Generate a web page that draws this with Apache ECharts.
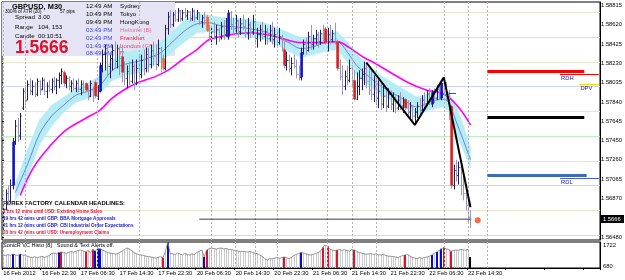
<!DOCTYPE html>
<html>
<head>
<meta charset="utf-8">
<title>GBPUSD M30</title>
<script src="https://cdn.jsdelivr.net/npm/echarts@6/dist/echarts.min.js"></script>
<style>
  html, body { margin: 0; padding: 0; background: #fff; }
  #chart { width: 625px; height: 280px; }
</style>
</head>
<body>
<div id="chart"></div>
<script>
// GBPUSD M30, bars (16 Feb 2012 - 22 Feb 2012)
var barSlots = 247; // bars + empty shift area on the right
var timeLabels = ['16 Feb 2012', '16 Feb 22:30', '17 Feb 06:30', '17 Feb 14:30', '17 Feb 22:30', '20 Feb 06:30',
  '20 Feb 14:30', '20 Feb 22:30', '21 Feb 06:30', '21 Feb 14:30', '21 Feb 22:30', '22 Feb 06:30', '22 Feb 14:30'];
var timeStep = 16;
var priceLabels = ['1.58815', '1.58620', '1.58425', '1.58230', '1.58035', '1.57840', '1.57645',
  '1.57450', '1.57260', '1.57065', '1.56870', '1.56675', '1.56480'];
var priceRange = [1.5645, 1.5885];
var lastPrice = 1.5666;

// [open, high, low, close]
var ohlc = [
  [1.5658,1.5680,1.5653,1.5676],[1.5676,1.5696,1.5675,1.5692],[1.5692,1.5700,1.5680,1.5684],[1.5684,1.5706,1.5683,1.5700],
  [1.5700,1.5748,1.5696,1.5744],[1.5744,1.5766,1.5741,1.5760],[1.5760,1.5768,1.5744,1.5750],[1.5750,1.5773,1.5746,1.5770],
  [1.5778,1.5798,1.5776,1.5795],[1.5795,1.5801,1.5781,1.5785],[1.5786,1.5806,1.5786,1.5802],[1.5802,1.5808,1.5791,1.5795],
  [1.5795,1.5806,1.5791,1.5800],[1.5800,1.5804,1.5789,1.5792],[1.5792,1.5808,1.5790,1.5805],[1.5805,1.5806,1.5791,1.5796],
  [1.5797,1.5809,1.5796,1.5806],[1.5806,1.5808,1.5791,1.5795],[1.5795,1.5804,1.5788,1.5800],[1.5800,1.5806,1.5794,1.5797],
  [1.5797,1.5808,1.5793,1.5805],[1.5805,1.5810,1.5796,1.5800],[1.5800,1.5808,1.5792,1.5806],[1.5806,1.5814,1.5798,1.5811],
  [1.5811,1.5818,1.5802,1.5815],[1.5814,1.5816,1.5800,1.5803],[1.5803,1.5811,1.5798,1.5808],[1.5808,1.5810,1.5796,1.5800],
  [1.5800,1.5806,1.5794,1.5803],[1.5803,1.5808,1.5796,1.5798],[1.5798,1.5806,1.5794,1.5803],[1.5803,1.5808,1.5794,1.5797],
  [1.5797,1.5806,1.5791,1.5802],[1.5802,1.5806,1.5794,1.5799],[1.5803,1.5804,1.5794,1.5796],[1.5796,1.5801,1.5786,1.5790],
  [1.5790,1.5806,1.5789,1.5803],[1.5796,1.5800,1.5784,1.5788],[1.5804,1.5806,1.5788,1.5790],[1.5790,1.5801,1.5786,1.5795],
  [1.5795,1.5824,1.5794,1.5821],[1.5821,1.5837,1.5814,1.5832],[1.5832,1.5842,1.5816,1.5838],[1.5838,1.5840,1.5811,1.5820],
  [1.5820,1.5832,1.5808,1.5828],[1.5828,1.5842,1.5816,1.5836],[1.5836,1.5845,1.5818,1.5825],[1.5825,1.5842,1.5818,1.5838],
  [1.5838,1.5840,1.5811,1.5828],[1.5830,1.5842,1.5804,1.5814],[1.5814,1.5825,1.5801,1.5808],[1.5808,1.5821,1.5798,1.5815],
  [1.5815,1.5825,1.5801,1.5805],[1.5805,1.5827,1.5803,1.5820],[1.5820,1.5823,1.5796,1.5803],[1.5803,1.5827,1.5801,1.5818],
  [1.5818,1.5832,1.5806,1.5812],[1.5812,1.5832,1.5808,1.5826],[1.5826,1.5837,1.5811,1.5818],[1.5818,1.5839,1.5814,1.5832],
  [1.5832,1.5839,1.5814,1.5822],[1.5822,1.5842,1.5818,1.5836],[1.5836,1.5845,1.5821,1.5830],[1.5830,1.5842,1.5816,1.5822],
  [1.5822,1.5847,1.5820,1.5838],[1.5838,1.5840,1.5814,1.5825],[1.5828,1.5832,1.5816,1.5818],[1.5818,1.5862,1.5816,1.5858],
  [1.5858,1.5875,1.5852,1.5870],[1.5870,1.5877,1.5859,1.5862],[1.5862,1.5875,1.5860,1.5872],[1.5872,1.5877,1.5865,1.5867],
  [1.5867,1.5879,1.5865,1.5876],[1.5876,1.5877,1.5865,1.5868],[1.5868,1.5877,1.5866,1.5874],[1.5874,1.5879,1.5869,1.5871],
  [1.5871,1.5877,1.5867,1.5875],[1.5875,1.5876,1.5865,1.5868],[1.5868,1.5879,1.5866,1.5876],[1.5876,1.5877,1.5865,1.5869],
  [1.5869,1.5877,1.5867,1.5874],[1.5874,1.5875,1.5862,1.5865],[1.5865,1.5872,1.5859,1.5869],[1.5869,1.5875,1.5862,1.5866],
  [1.5870,1.5872,1.5855,1.5856],[1.5856,1.5862,1.5847,1.5850],[1.5850,1.5859,1.5842,1.5855],[1.5855,1.5865,1.5847,1.5850],
  [1.5850,1.5862,1.5842,1.5857],[1.5857,1.5859,1.5845,1.5849],[1.5849,1.5865,1.5847,1.5860],[1.5860,1.5867,1.5847,1.5852],
  [1.5852,1.5869,1.5850,1.5856],[1.5850,1.5877,1.5847,1.5874],[1.5874,1.5876,1.5857,1.5862],[1.5862,1.5869,1.5852,1.5858],
  [1.5858,1.5872,1.5854,1.5866],[1.5866,1.5867,1.5849,1.5855],[1.5855,1.5869,1.5852,1.5863],[1.5863,1.5872,1.5857,1.5860],
  [1.5860,1.5867,1.5849,1.5853],[1.5853,1.5869,1.5847,1.5862],[1.5862,1.5865,1.5849,1.5855],[1.5855,1.5872,1.5852,1.5865],
  [1.5865,1.5866,1.5842,1.5848],[1.5848,1.5859,1.5839,1.5852],[1.5852,1.5862,1.5845,1.5857],[1.5857,1.5865,1.5847,1.5850],
  [1.5850,1.5862,1.5842,1.5855],[1.5855,1.5859,1.5842,1.5848],[1.5848,1.5862,1.5845,1.5856],[1.5856,1.5865,1.5842,1.5847],
  [1.5847,1.5859,1.5839,1.5852],[1.5852,1.5857,1.5839,1.5844],[1.5844,1.5859,1.5842,1.5850],[1.5850,1.5852,1.5835,1.5838],
  [1.5837,1.5847,1.5818,1.5821],[1.5821,1.5835,1.5816,1.5826],[1.5826,1.5832,1.5814,1.5818],[1.5818,1.5829,1.5811,1.5823],
  [1.5823,1.5832,1.5818,1.5820],[1.5820,1.5827,1.5808,1.5812],[1.5812,1.5821,1.5806,1.5809],[1.5809,1.5839,1.5806,1.5834],
  [1.5834,1.5847,1.5832,1.5842],[1.5842,1.5849,1.5832,1.5836],[1.5836,1.5855,1.5835,1.5850],[1.5850,1.5862,1.5837,1.5842],
  [1.5842,1.5852,1.5837,1.5848],[1.5848,1.5857,1.5842,1.5852],[1.5852,1.5855,1.5839,1.5845],[1.5845,1.5857,1.5842,1.5853],
  [1.5853,1.5862,1.5845,1.5849],[1.5858,1.5860,1.5842,1.5844],[1.5844,1.5859,1.5835,1.5852],[1.5852,1.5862,1.5842,1.5847],
  [1.5847,1.5857,1.5845,1.5853],[1.5853,1.5864,1.5842,1.5848],[1.5845,1.5847,1.5816,1.5818],[1.5818,1.5827,1.5806,1.5810],
  [1.5810,1.5821,1.5791,1.5800],[1.5800,1.5816,1.5796,1.5810],[1.5810,1.5821,1.5801,1.5806],[1.5806,1.5827,1.5804,1.5818],
  [1.5818,1.5821,1.5798,1.5804],[1.5806,1.5816,1.5786,1.5787],[1.5787,1.5814,1.5786,1.5800],[1.5800,1.5816,1.5791,1.5808],
  [1.5808,1.5818,1.5796,1.5812],[1.5812,1.5825,1.5801,1.5818],[1.5818,1.5824,1.5798,1.5805],[1.5805,1.5818,1.5791,1.5796],
  [1.5796,1.5816,1.5786,1.5792],[1.5792,1.5811,1.5784,1.5800],[1.5800,1.5808,1.5781,1.5788],[1.5788,1.5806,1.5778,1.5795],
  [1.5795,1.5804,1.5776,1.5782],[1.5782,1.5801,1.5778,1.5790],[1.5790,1.5798,1.5774,1.5780],[1.5780,1.5798,1.5778,1.5792],
  [1.5792,1.5796,1.5776,1.5782],[1.5782,1.5794,1.5774,1.5788],[1.5788,1.5791,1.5773,1.5778],[1.5778,1.5791,1.5776,1.5786],
  [1.5786,1.5794,1.5776,1.5780],[1.5780,1.5789,1.5773,1.5784],[1.5787,1.5788,1.5776,1.5778],[1.5778,1.5786,1.5771,1.5774],
  [1.5774,1.5784,1.5768,1.5780],[1.5780,1.5781,1.5766,1.5770],[1.5770,1.5778,1.5761,1.5774],[1.5774,1.5784,1.5768,1.5780],
  [1.5780,1.5788,1.5771,1.5776],[1.5776,1.5791,1.5774,1.5786],[1.5786,1.5794,1.5778,1.5782],[1.5782,1.5796,1.5781,1.5792],
  [1.5792,1.5798,1.5781,1.5786],[1.5782,1.5796,1.5779,1.5794],[1.5794,1.5798,1.5783,1.5788],[1.5788,1.5801,1.5786,1.5797],
  [1.5797,1.5804,1.5786,1.5792],[1.5788,1.5806,1.5786,1.5803],[1.5803,1.5809,1.5791,1.5798],[1.5798,1.5804,1.5786,1.5792],
  [1.5792,1.5796,1.5766,1.5782],[1.5780,1.5781,1.5697,1.5700],[1.5700,1.5721,1.5696,1.5715],[1.5715,1.5726,1.5704,1.5710],
  [1.5710,1.5724,1.5701,1.5718],[1.5718,1.5720,1.5690,1.5700],[1.5700,1.5714,1.5685,1.5692],[1.5692,1.5701,1.5675,1.5680],
  [1.5680,1.5690,1.5663,1.5668],[1.5668,1.5675,1.5657,1.5666]
];
// volume climax candles painted by the SonicR indicator
var hotBlue = [4, 40, 93, 123, 177, 181];
var hotRed = [25, 34, 38, 49, 116, 133, 138, 145, 166, 185];
var hotOrange = [66, 84];

// dragon band (EMA34 of highs / lows) and the middle EMA, [bar, price]
var bandRows = [
  [5,1.5701,1.5685],[10,1.5736,1.5708],[15,1.5766,1.5741],[20,1.5781,1.5760],[25,1.5789,1.5774],[30,1.5798,1.5784],
  [35,1.5803,1.5788],[40,1.5811,1.5793],[45,1.5827,1.5806],[50,1.5834,1.5811],[57,1.5837,1.5814],[65,1.5844,1.5825],
  [70,1.5855,1.5835],[75,1.5867,1.5845],[80,1.5873,1.5854],[85,1.5872,1.5855],[90,1.5869,1.5852],[96,1.5869,1.5852],
  [102,1.5867,1.5850],[108,1.5864,1.5847],[113,1.5859,1.5842],[118,1.5854,1.5835],[123,1.5849,1.5829],[128,1.5849,1.5832],
  [133,1.5854,1.5835],[138,1.5855,1.5837],[142,1.5845,1.5825],[146,1.5832,1.5811],[151,1.5821,1.5801],[156,1.5811,1.5791],
  [164,1.5799,1.5781],[171,1.5789,1.5771],[176,1.5793,1.5776],[181,1.5796,1.5779],[184,1.5794,1.5776],[187,1.5781,1.5751],
  [190,1.5761,1.5736],[193,1.5738,1.5718]
];
var emaMid = [
  [5,1.5693],[10,1.5721],[15,1.5752],[20,1.5770],[25,1.5781],[30,1.5791],[35,1.5795],[40,1.5801],[45,1.5816],[50,1.5822],
  [57,1.5826],[65,1.5834],[70,1.5845],[75,1.5856],[80,1.5863],[85,1.5864],[90,1.5861],[96,1.5860],[102,1.5858],[108,1.5855],
  [113,1.5850],[118,1.5844],[123,1.5838],[128,1.5840],[133,1.5844],[138,1.5845],[142,1.5835],[146,1.5821],[151,1.5810],
  [156,1.5800],[164,1.5789],[171,1.5779],[176,1.5784],[181,1.5787],[184,1.5784],[187,1.5765],[190,1.5746],[193,1.5726]
];
var emaSlow = [
  [7,1.5690],[12,1.5716],[18,1.5736],[26,1.5756],[35,1.5769],[40,1.5776],[45,1.5788],[51,1.5798],[56,1.5804],[62,1.5809],
  [68,1.5816],[74,1.5827],[80,1.5837],[85,1.5847],[94,1.5852],[102,1.5854],[109,1.5852],[114,1.5849],[120,1.5845],
  [124,1.5844],[131,1.5844],[138,1.5845],[143,1.5839],[149,1.5829],[153,1.5824],[167,1.5804],[175,1.5796],[180,1.5794],
  [184,1.5789],[189,1.5776],[193,1.5761]
];
var zigzag = [[150,1.5824],[170,1.5761],[182,1.5809],[193,1.5678]];

var roundLevels = [1.5875, 1.5850, 1.5825, 1.5800, 1.5775, 1.5750, 1.5725, 1.5700, 1.5675, 1.5650];
var sessionBars = [0, 9, 39, 56, 86, 96, 104, 113, 134, 144, 154, 182, 192, 200];
// [fromBar, toBar, price, colour, width, label]
var dayLevels = [
  [200, 240, 1.5815, '#ff0000', 3, ''],
  [230, 246, 1.5812, '#ff0000', 1, 'RDH'],
  [238, 246, 1.5802, '#f0dc00', 1, 'DPV'],
  [200, 240, 1.5769, '#000000', 3, ''],
  [200, 241, 1.5710, '#3c6cb4', 3, ''],
  [230, 246, 1.5707, '#4a5ad8', 1, 'RDL'],
  [184, 187, 1.5793, '#ff0000', 1, '']
];
var bidLine = [[81, lastPrice], [193, lastPrice]];
var alertDot = [[196, 1.5665]];

// SonicR VC histogram
var volAxis = [680, 1722];
var volume = [
  1200,1180,1220,1190,1240,1210,1180,1240,1200,1190, 1150,1120,1100,1130,1090,1120,1150,1100,1140,1180,
  1260,1280,1250,1300,1320,1290,1270,1300,1340,1320, 1350,1380,1400,1360,1330,1380,1300,1420,1360,1450,
  1450,1400,1350,1300,1280,1260,1250,1240,1300,1350, 1420,1480,1450,1380,1300,1250,1220,1200,1180,1150,
  1140,1120,1100,1080,1110,1130,1090,1350,1720,1250, 1250,1220,1280,1240,1210,1260,1230,1200,1250,1220,
  1300,1350,1400,1120,1400,1450,1480,1460,1440,1470, 1480,1450,1460,1430,1420,1400,1380,1360,1340,1350,
  1330,1320,1350,1300,1280,1250,1200,1150,1050,1000, 1060,1040,1080,1100,1070,1090,1120,1100,1060,1100,
  1180,1220,1260,1300,1280,1250,1220,1200,1230,1260, 1300,1350,1500,1600,1550,1420,1400,1380,1400,1420,
  1390,1410,1380,1360,1420,1400,1350,1300,1280,1250, 1230,1240,1260,1220,1250,1210,1200,1230,1180,1160,
  1150,1140,1120,1100,1140,1180,1200,1220,1160,1100, 1080,1060,1090,1070,1100,1120,1150,1200,1260,1320,
  1380,1450,1500,1450,1420,1350,1380,1400,1390,1420, 1410,1400,1430,1120
];
var volBlue = [4, 7, 23, 38, 39, 40, 68, 83, 123, 177, 179, 181];
var volRed = [24, 34, 37, 66, 84, 116, 132, 134, 138, 145, 166, 182, 185];
var volBlack = [193];

var clockTimes = ['12:49 AM', '10:49 PM', '09:49 PM', '03:49 PM', '02:49 PM', '01:49 PM', '08:49 AM'];
var clockCities = ['Sydney', 'Tokyo', 'HongKong', 'Helsinki (B)', 'Frankfurt', 'London (GMT)', 'NewYork (B)'];
var headlines = [
  '1 hrs 12 mins until USD: Existing Home Sales',
  '19 hrs 42 mins until GBP: BBA Mortgage Approvals',
  '21 hrs 12 mins until GBP: CBI Industrial Order Expectations',
  '23 hrs 42 mins until USD: Unemployment Claims'
];

var FONT = '"Liberation Sans", Arial, sans-serif';
var UP = '#1e1e5a', DOWN = '#9898b4';
var HOT = ['', '#1010d0', '#dc1e1e', '#f0643c'];
var VOLC = ['#cacaca', '#0a0acc', '#e0102a', '#000000'];

var chart = echarts.init(document.getElementById('chart'), null, { renderer: 'canvas' });

var cats = [];
for (var k = 0; k < barSlots; k++) cats.push(String(k));

function hotOf(i) {
  if (hotBlue.indexOf(i) >= 0) return 1;
  if (hotRed.indexOf(i) >= 0) return 2;
  if (hotOrange.indexOf(i) >= 0) return 3;
  return 0;
}
var candleData = ohlc.map(function (r, i) { return [i, r[0], r[1], r[2], r[3], hotOf(i)]; });

function volColour(i) {
  if (volBlue.indexOf(i) >= 0) return 1;
  if (volRed.indexOf(i) >= 0) return 2;
  if (volBlack.indexOf(i) >= 0) return 3;
  return 0;
}
var volData = volume.map(function (v, i) { return [i, v, volColour(i)]; });

function renderBar(params, api) {
  var i = api.value(0);
  var o = api.coord([i, api.value(1)]);
  var h = api.coord([i, api.value(2)]);
  var l = api.coord([i, api.value(3)]);
  var c = api.coord([i, api.value(4)]);
  var hot = api.value(5);
  var x = Math.round(h[0]) + 0.5;
  var col = api.value(4) >= api.value(1) ? UP : DOWN;
  var kids = [
    { type: 'line', shape: { x1: x, y1: h[1], x2: x, y2: l[1] }, style: { stroke: col, lineWidth: 1 } },
    { type: 'line', shape: { x1: x - 1.2, y1: o[1], x2: x, y2: o[1] }, style: { stroke: col, lineWidth: 1 } },
    { type: 'line', shape: { x1: x, y1: c[1], x2: x + 1.2, y2: c[1] }, style: { stroke: col, lineWidth: 1 } }
  ];
  if (hot) {
    kids.push({ type: 'rect', shape: { x: x - 1.2, y: Math.min(o[1], c[1]), width: 2.6, height: Math.max(1, Math.abs(c[1] - o[1])) },
      style: { fill: HOT[hot] } });
  }
  return { type: 'group', children: kids };
}

function renderBand(params, api) {
  var n = params.dataIndex;
  if (n >= bandRows.length - 1) return null;
  var a = bandRows[n], b = bandRows[n + 1];
  var pts = [api.coord([a[0], a[1]]), api.coord([b[0], b[1]]), api.coord([b[0], b[2]]), api.coord([a[0], a[2]])];
  return { type: 'polygon', shape: { points: pts }, style: { fill: '#b6ecf4', stroke: '#b6ecf4', lineWidth: 0.6 } };
}

function renderVol(params, api) {
  var i = api.value(0), c = api.value(2);
  var top = api.coord([i, api.value(1)]);
  var base = api.coord([i, volAxis[0]]);
  var w = c ? 2 : 1;
  return { type: 'rect', shape: { x: Math.round(top[0]) - (c ? 1 : 0), y: top[1], width: w, height: base[1] - top[1] },
    style: { fill: VOLC[c] } };
}

// horizontal round-number lines, drawn on whole pixels so they stay crisp
function renderLevel(params, api) {
  var p = api.value(1);
  var a = api.coord([0, p]);
  var y = Math.round(a[1]) + 0.5;
  var r = Math.round(p * 10000) % 100;
  var col = r === 0 ? '#d2d2f6' : (r === 50 ? '#bdeebd' : '#ede4cd');
  return { type: 'line', shape: { x1: 2, y1: y, x2: 600, y2: y }, style: { stroke: col, lineWidth: 1 } };
}

// price tag on the right axis
function renderTag(params, api) {
  var p = api.coord([api.value(0), api.value(1)]);
  var y = Math.round(p[1]);
  return {
    type: 'group',
    children: [
      { type: 'rect', shape: { x: 601, y: y - 4, width: 23, height: 8 }, style: { fill: '#000' } },
      { type: 'text', x: 603, y: y, style: { text: String(lastPrice), fill: '#fff', font: '5.8px ' + FONT, verticalAlign: 'middle' } }
    ]
  };
}

var sessionMarks = {
  silent: true, symbol: ['none', 'none'], label: { show: false },
  lineStyle: { color: '#b4b4b4', type: [2, 2], width: 1 },
  data: sessionBars.map(function (b) { return { xAxis: b }; })
};

var markSegments = dayLevels.map(function (d) {
  return [
    { coord: [d[0], d[2]], lineStyle: { color: d[3], width: d[4], type: 'solid' },
      label: { show: !!d[5], formatter: d[5], position: 'insideStartBottom', distance: 1, color: '#24248c', fontSize: 5.8, fontFamily: FONT } },
    { coord: [d[1], d[2]] }
  ];
});

var graphics = [
  { type: 'rect', x: 2, y: 2, shape: { width: 173, height: 54 }, style: { fill: '#e4e4f4' }, z: 1, silent: true },
  { type: 'text', x: 12, y: 6.5, z: 1, style: { text: 'GBPUSD, M30', font: 'bold 7.4px ' + FONT, fill: '#000', verticalAlign: 'middle' } },
  { type: 'text', x: 5, y: 12, z: 1, style: { text: '300% of ATR (20)', font: '4.6px ' + FONT, fill: '#000', verticalAlign: 'middle' } },
  { type: 'text', x: 60, y: 12, z: 1, style: { text: '57 pips', font: '4.6px ' + FONT, fill: '#000', verticalAlign: 'middle' } },
  { type: 'text', x: 15, y: 17, z: 1, style: { text: 'Spread', font: '6.2px ' + FONT, fill: '#000', verticalAlign: 'middle' } },
  { type: 'text', x: 38, y: 17, z: 1, style: { text: '3.00', font: '6.2px ' + FONT, fill: '#000', verticalAlign: 'middle' } },
  { type: 'text', x: 15, y: 27, z: 1, style: { text: 'Range', font: '6.2px ' + FONT, fill: '#000', verticalAlign: 'middle' } },
  { type: 'text', x: 38, y: 27, z: 1, style: { text: '104, 153', font: '6.2px ' + FONT, fill: '#000', verticalAlign: 'middle' } },
  { type: 'text', x: 15, y: 36, z: 1, style: { text: 'Candle', font: '6.2px ' + FONT, fill: '#000', verticalAlign: 'middle' } },
  { type: 'text', x: 38, y: 36, z: 1, style: { text: '00:10:51', font: '6.2px ' + FONT, fill: '#000', verticalAlign: 'middle' } },
  { type: 'text', x: 15, y: 48.5, z: 1, style: { text: String(lastPrice), font: 'bold 17.5px ' + FONT, fill: '#e0102a', verticalAlign: 'middle' } },
  { type: 'text', x: 3, y: 203, z: 1, style: { text: 'FOREX FACTORY CALENDAR HEADLINES:', font: 'bold 5.9px ' + FONT, fill: '#000', verticalAlign: 'middle' } },
  { type: 'text', x: 3, y: 245.5, z: 6, style: { text: 'SonicR VC Histo (8)   Sound & Text Alerts off.', font: '5.5px ' + FONT, fill: '#000', verticalAlign: 'middle' } }
];
var clockY = [6.2, 14.3, 22.2, 30, 38, 46, 53.6];
var cityColours = ['#000', '#000', '#000', '#e070a0', '#e8284c', '#e04870', '#e8284c'];
clockTimes.forEach(function (t, i) {
  graphics.push({ type: 'text', x: 86, y: clockY[i], z: 1, style: { text: t, font: '6.2px ' + FONT, fill: i < 3 ? '#000' : '#4646d2', verticalAlign: 'middle' } });
  graphics.push({ type: 'text', x: 120, y: clockY[i], z: 1, style: { text: clockCities[i], font: '6.2px ' + FONT, fill: cityColours[i], verticalAlign: 'middle' } });
});
var headlineY = [211.5, 218.5, 225.7, 232.7];
headlines.forEach(function (t, i) {
  var usd = t.indexOf('USD') >= 0;
  graphics.push({ type: 'text', x: 3, y: headlineY[i], z: 1, style: { text: t, font: 'bold 4.6px ' + FONT, fill: usd ? '#e8143c' : '#1818c8', verticalAlign: 'middle' } });
});

var option = {
  animation: false,
  backgroundColor: '#ffffff',
  graphic: graphics,
  grid: [
    { left: 2, right: 25, top: 2, height: 238, show: true, borderColor: '#000', borderWidth: 1, backgroundColor: 'transparent' },
    { left: 2, right: 25, top: 242, height: 26, show: true, borderColor: '#000', borderWidth: 1, backgroundColor: 'transparent' },
    { left: 2, right: 25, top: 5.5, height: 231.5, show: false }
  ],
  xAxis: [
    { type: 'category', gridIndex: 0, data: cats, show: false },
    { type: 'category', gridIndex: 1, data: cats,
      axisLine: { show: true, lineStyle: { color: '#000' } },
      axisTick: { show: true, length: 2, interval: function (i) { return i % timeStep === 0; }, lineStyle: { color: '#000' } },
      axisLabel: { interval: function (i) { return i % timeStep === 0; }, align: 'left', margin: 2.5,
        fontSize: 5.8, fontFamily: FONT, color: '#000',
        formatter: function (v, i) { return i % timeStep === 0 ? (timeLabels[i / timeStep] || '') : ''; } } },
    { type: 'value', gridIndex: 2, show: false }
  ],
  yAxis: [
    { type: 'value', gridIndex: 0, position: 'right', min: priceRange[0], max: priceRange[1], scale: true,
      axisLine: { show: true, lineStyle: { color: '#000' } }, axisTick: { show: false }, axisLabel: { show: false }, splitLine: { show: false } },
    { type: 'value', gridIndex: 1, position: 'right', min: volAxis[0], max: volAxis[1], interval: volAxis[1] - volAxis[0],
      axisLine: { show: true, lineStyle: { color: '#000' } }, axisTick: { show: false }, splitLine: { show: false },
      axisLabel: { margin: 3, fontSize: 5.8, fontFamily: FONT, color: '#000',
        formatter: function (v) { return v >= volAxis[1] ? '{t|' + volAxis[1] + '}' : '{b|' + volAxis[0] + '}'; },
        rich: { t: { padding: [6, 0, 0, 0], fontSize: 5.8, fontFamily: FONT }, b: { padding: [0, 0, 3, 0], fontSize: 5.8, fontFamily: FONT } } } },
    { type: 'category', gridIndex: 2, position: 'right', data: priceLabels.slice().reverse(), boundaryGap: false,
      axisLine: { show: false }, axisTick: { show: true, length: 2, lineStyle: { color: '#000' } },
      axisLabel: { interval: 0, margin: 4, fontSize: 5.8, fontFamily: FONT, color: '#000' }, splitLine: { show: false } }
  ],
  series: [
    { name: 'levels', type: 'custom', xAxisIndex: 0, yAxisIndex: 0, z: 0, silent: true, clip: false,
      renderItem: renderLevel, data: roundLevels.map(function (p) { return [0, p]; }), encode: { x: 0, y: 1 } },
    { name: 'sessions', type: 'line', xAxisIndex: 0, yAxisIndex: 0, z: 0, data: [[0, roundLevels[0]]], showSymbol: false, silent: true,
      lineStyle: { opacity: 0 }, markLine: sessionMarks },
    { name: 'band', type: 'custom', xAxisIndex: 0, yAxisIndex: 0, z: 2, renderItem: renderBand, data: bandRows, silent: true,
      encode: { x: 0, y: [1, 2] } },
    { name: 'ema34', type: 'line', xAxisIndex: 0, yAxisIndex: 0, z: 3, data: emaMid, showSymbol: false, smooth: 0.3,
      lineStyle: { color: '#5866dc', width: 0.8 } },
    { name: 'ema89', type: 'line', xAxisIndex: 0, yAxisIndex: 0, z: 3, data: emaSlow, showSymbol: false, smooth: 0.3,
      lineStyle: { color: '#ff00ff', width: 1.6 } },
    { name: 'levelsDay', type: 'line', xAxisIndex: 0, yAxisIndex: 0, z: 3, data: [[246, dayLevels[0][2]]], showSymbol: false,
      lineStyle: { opacity: 0 }, markLine: { silent: true, symbol: ['none', 'none'], data: markSegments } },
    { name: 'GBPUSD', type: 'custom', xAxisIndex: 0, yAxisIndex: 0, z: 4, renderItem: renderBar, data: candleData,
      encode: { x: 0, y: [1, 2, 3, 4] } },
    { name: 'zigzag', type: 'line', xAxisIndex: 0, yAxisIndex: 0, z: 5, data: zigzag, showSymbol: false,
      lineStyle: { color: '#000', width: 2 } },
    { name: 'bid', type: 'line', xAxisIndex: 0, yAxisIndex: 0, z: 5, data: bidLine, showSymbol: false,
      lineStyle: { color: '#3c3c3c', width: 1 } },
    { name: 'bidTag', type: 'custom', xAxisIndex: 0, yAxisIndex: 0, z: 8, clip: false, silent: true,
      renderItem: renderTag, data: [[barSlots - 1, lastPrice]], encode: { x: 0, y: 1 } },
    { name: 'alert', type: 'scatter', xAxisIndex: 0, yAxisIndex: 0, z: 6, data: alertDot, symbolSize: 6,
      itemStyle: { color: '#f04a1e' } },
    { name: 'sessionsVol', type: 'line', xAxisIndex: 1, yAxisIndex: 1, z: 0, data: [[0, volAxis[0]]], showSymbol: false, silent: true,
      lineStyle: { opacity: 0 }, markLine: sessionMarks },
    { name: 'VC histo', type: 'custom', xAxisIndex: 1, yAxisIndex: 1, z: 3, renderItem: renderVol, data: volData,
      encode: { x: 0, y: 1 } },
    { name: 'VC line', type: 'line', xAxisIndex: 1, yAxisIndex: 1, z: 4, data: volume.slice(0, volume.length - 1), showSymbol: false,
      lineStyle: { color: '#7c7c7c', width: 0.8 } }
  ]
};
chart.setOption(option);
</script>
</body>
</html>
